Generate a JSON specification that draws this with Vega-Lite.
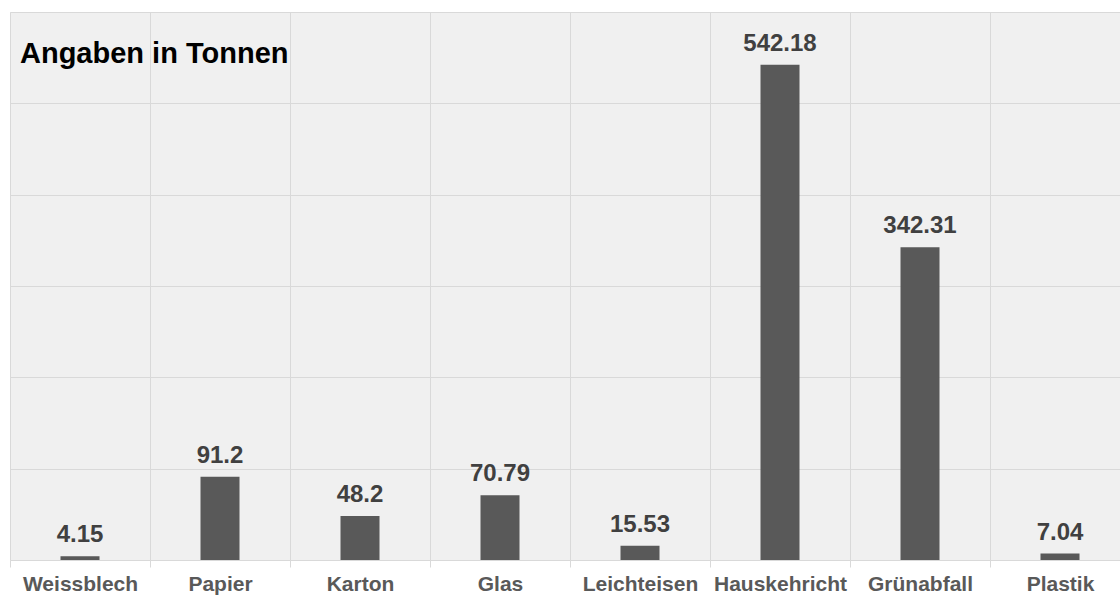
{
  "$schema": "https://vega.github.io/schema/vega-lite/v6.json",
  "autosize": {"type": "none"},
  "width": 1110,
  "height": 548,
  "padding": {"left": 10, "top": 12, "right": 0, "bottom": 35},
  "background": "white",
  "config": {
    "view": {"fill": "#f0f0f0", "stroke": null},
    "font": "Liberation Sans"
  },
  "title": {
    "text": "Angaben in Tonnen",
    "anchor": "start",
    "frame": "group",
    "orient": "top",
    "offset": 0,
    "dx": 10,
    "dy": 80,
    "baseline": "alphabetic",
    "font": "Liberation Sans",
    "fontSize": 29,
    "fontWeight": "bold",
    "color": "#000000"
  },
  "data": {
    "values": [
      {"Abfall": "Weissblech", "Tonnen": 4.15},
      {"Abfall": "Papier", "Tonnen": 91.2},
      {"Abfall": "Karton", "Tonnen": 48.2},
      {"Abfall": "Glas", "Tonnen": 70.79},
      {"Abfall": "Leichteisen", "Tonnen": 15.53},
      {"Abfall": "Hauskehricht", "Tonnen": 542.18},
      {"Abfall": "Grünabfall", "Tonnen": 342.31},
      {"Abfall": "Plastik", "Tonnen": 7.04}
    ]
  },
  "encoding": {
    "x": {
      "field": "Abfall",
      "type": "nominal",
      "sort": null,
      "scale": {"range": [0, 1120], "paddingInner": 0, "paddingOuter": 0},
      "axis": {
        "title": null,
        "labelAngle": 0,
        "labelFont": "Liberation Sans",
        "labelFontSize": 21,
        "labelFontWeight": "bold",
        "labelColor": "#595959",
        "labelPadding": 6,
        "domainColor": "#d9d9d9",
        "tickColor": "#d9d9d9",
        "tickSize": 7,
        "tickBand": "extent",
        "grid": true,
        "gridColor": "#d9d9d9"
      }
    },
    "y": {
      "field": "Tonnen",
      "type": "quantitative",
      "scale": {"domain": [0, 600], "nice": false},
      "axis": {
        "title": null,
        "labels": false,
        "ticks": false,
        "domain": false,
        "grid": true,
        "gridColor": "#d9d9d9",
        "values": [0, 100, 200, 300, 400, 500, 600]
      }
    }
  },
  "layer": [
    {
      "mark": {"type": "bar", "color": "#595959", "width": 39}
    },
    {
      "mark": {
        "type": "text",
        "baseline": "alphabetic",
        "dy": -14,
        "font": "Liberation Sans",
        "fontSize": 24,
        "fontWeight": "bold",
        "color": "#404040"
      },
      "encoding": {
        "text": {"field": "Tonnen", "type": "quantitative"}
      }
    }
  ]
}
